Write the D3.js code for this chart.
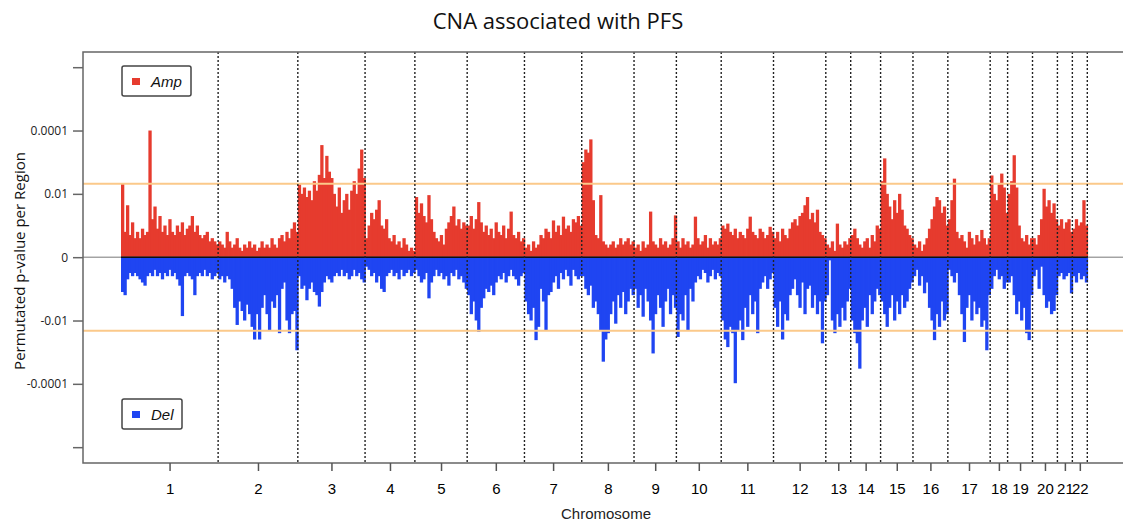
<!DOCTYPE html>
<html>
<head>
<meta charset="utf-8">
<script src="https://cdn.jsdelivr.net/npm/d3@7"></script>
<style>
  body { margin: 0; background: #fff; }
  svg { display: block; font-family: "Liberation Sans", Arial, sans-serif; }
</style>
</head>
<body>
<div id="chart"></div>
<script>
// Chromosome labels along the x axis
const chromLabels = ['1','2','3','4','5','6','7','8','9','10','11','12','13','14','15','16','17','18','19','20','21','22'];

// Amplification scores per region, one array per chromosome (tick units, 1 = one axis step)
const ampValues = [
  [1.17,0.4,0.82,0.35,0.55,0.3,0.4,0.3,0.45,0.35,0.4,2.0,0.6,0.8,0.45,0.65,0.4,0.5,0.35,0.6,0.4,0.35,0.5,0.4,0.55,0.35,0.45,0.5,0.65,0.4,0.5,0.35,0.3,0.35,0.4,0.25,0.3,0.25,0.2],
  [0.25,0.2,0.15,0.4,0.25,0.15,0.2,0.3,0.15,0.1,0.2,0.15,0.25,0.15,0.2,0.1,0.15,0.25,0.15,0.2,0.15,0.3,0.2,0.15,0.3,0.35,0.25,0.4,0.3,0.45,0.55,0.4],
  [1.15,1.0,1.1,0.95,1.05,0.9,1.2,1.05,1.3,1.77,1.25,1.6,1.35,1.25,1.0,0.8,1.1,0.7,0.9,1.0,0.75,1.05,1.2,1.0,1.4,1.7,1.25],
  [0.3,0.5,0.7,0.6,0.75,0.9,0.5,0.45,0.6,0.3,0.25,0.35,0.2,0.25,0.15,0.3,0.2,0.1,0.15,0.1],
  [0.95,0.7,0.85,0.65,0.55,0.98,0.6,0.4,0.3,0.25,0.35,0.2,0.45,0.55,0.65,0.8,0.5,0.6,0.45,0.55,0.5],
  [0.5,0.65,0.45,0.6,0.87,0.55,0.4,0.5,0.35,0.45,0.3,0.55,0.4,0.35,0.5,0.3,0.45,0.72,0.35,0.3,0.4,0.25,0.3],
  [0.15,0.2,0.1,0.25,0.15,0.2,0.35,0.3,0.45,0.4,0.3,0.58,0.4,0.5,0.35,0.64,0.45,0.5,0.4,0.6,0.55,0.65,0.5],
  [1.5,1.7,1.65,1.86,0.9,0.35,0.3,0.98,0.25,0.2,0.15,0.2,0.25,0.15,0.2,0.3,0.2,0.25,0.3,0.2,0.25],
  [0.15,0.2,0.1,0.25,0.15,0.2,0.72,0.25,0.2,0.15,0.3,0.2,0.25,0.15,0.2,0.3,0.66],
  [0.25,0.15,0.3,0.2,0.25,0.15,0.2,0.64,0.3,0.2,0.25,0.35,0.15,0.3,0.2,0.25,0.2,0.3],
  [0.5,0.45,0.53,0.4,0.35,0.45,0.3,0.4,0.35,0.3,0.45,0.64,0.4,0.35,0.3,0.45,0.4,0.3,0.35,0.48,0.4],
  [0.3,0.4,0.25,0.45,0.35,0.3,0.45,0.55,0.6,0.5,0.65,0.7,0.82,0.95,0.6,0.7,0.55,0.75,0.4,0.35,0.3],
  [0.2,0.15,0.25,0.1,0.53,0.2,0.15,0.25,0.2,0.3],
  [0.35,0.45,0.3,0.2,0.15,0.25,0.3,0.15,0.35,0.25,0.5,0.45],
  [1.2,1.56,1.0,0.8,0.6,0.9,0.7,1.0,0.75,0.5,0.45,0.35,0.3],
  [0.2,0.15,0.25,0.1,0.2,0.3,0.45,0.6,0.8,0.95,0.9,0.7,0.8,0.5],
  [0.6,0.9,1.24,0.4,0.3,0.35,0.25,0.15,0.4,0.3,0.2,0.35,0.25,0.43,0.3,0.2,0.3],
  [1.29,1.0,0.9,1.15,1.32,1.1,0.7],
  [1.0,1.2,1.61,1.1,0.5,0.3,0.25,0.35,0.2,0.3],
  [0.3,0.2,0.35,0.6,1.08,0.8,0.9,0.7,0.85,0.6],
  [0.5,0.6,0.45,0.55,0.6,0.4],
  [0.45,0.6,0.5,0.55,0.9,0.5]
];

// Deletion scores per region (magnitude, drawn below zero)
const delValues = [
  [0.55,0.6,0.35,0.25,0.3,0.25,0.3,0.35,0.4,0.45,0.3,0.25,0.3,0.2,0.3,0.25,0.35,0.25,0.3,0.2,0.3,0.25,0.35,0.45,0.93,0.3,0.25,0.3,0.35,0.6,0.3,0.25,0.3,0.2,0.3,0.25,0.35,0.3,0.25],
  [0.35,0.3,0.4,0.3,0.35,0.5,0.8,1.07,0.7,0.85,1.0,0.75,0.9,1.1,1.3,0.9,1.3,0.8,0.6,0.9,1.15,0.7,0.8,0.6,1.2,0.5,0.4,1.0,1.2,0.9,0.85,1.47],
  [0.3,0.5,0.45,0.68,0.5,0.4,0.55,0.6,0.78,0.55,0.4,0.3,0.35,0.4,0.3,0.25,0.3,0.2,0.3,0.25,0.35,0.3,0.2,0.3,0.25,0.35,0.4],
  [0.15,0.2,0.3,0.25,0.4,0.3,0.5,0.55,0.3,0.25,0.2,0.3,0.25,0.35,0.2,0.3,0.25,0.2,0.3,0.25],
  [0.2,0.3,0.4,0.35,0.25,0.65,0.4,0.3,0.2,0.3,0.25,0.35,0.3,0.45,0.25,0.3,0.2,0.35,0.3,0.4,0.5],
  [0.6,0.9,0.7,1.0,1.18,0.8,0.65,0.5,0.55,0.45,0.6,0.4,0.3,0.35,0.25,0.4,0.3,0.2,0.3,0.35,0.45,0.3,0.25],
  [0.7,0.9,1.0,0.8,1.31,1.1,0.5,0.7,1.15,0.6,0.55,0.4,0.3,0.5,0.25,0.35,0.2,0.3,0.45,0.2,0.3,0.35,0.3],
  [0.3,0.5,0.6,0.45,0.8,0.7,0.9,1.15,1.65,1.3,1.2,0.9,0.7,1.05,0.6,0.8,0.55,0.9,0.7,0.5,0.6],
  [0.5,0.8,0.6,0.94,0.5,0.7,1.0,1.52,0.9,0.6,0.8,1.1,0.7,0.5,0.9,0.6,0.8],
  [1.26,0.9,1.0,0.6,1.15,0.5,0.7,0.4,0.3,0.35,0.2,0.25,0.4,0.3,0.2,0.35,0.25,0.3],
  [1.0,1.3,1.42,1.1,1.2,1.99,1.15,1.0,1.31,0.8,1.1,0.6,0.9,0.7,1.2,0.5,0.4,0.3,0.5,0.35,0.25],
  [0.8,1.1,0.7,1.3,0.9,1.0,0.6,0.5,0.35,0.6,0.8,0.4,0.9,0.5,0.45,0.8,0.6,0.9,0.7,1.36,0.7],
  [0.6,0.05,1.0,1.2,0.9,1.1,0.8,1.0,0.7,0.5],
  [1.0,1.2,1.36,1.76,1.0,0.8,1.1,0.6,0.9,0.7,0.5,0.6],
  [0.7,0.9,1.1,0.8,0.6,1.0,0.7,0.9,0.6,0.8,0.7,0.5,0.4],
  [0.3,0.2,0.45,0.3,0.57,0.4,0.8,1.0,1.31,0.9,1.1,0.7,1.0,0.9],
  [0.2,0.3,0.4,0.25,0.6,0.9,1.34,0.8,0.6,1.0,0.7,0.9,0.8,1.1,1.0,1.47,0.6],
  [0.5,0.3,0.2,0.35,0.3,0.5,0.4],
  [0.4,0.3,0.6,0.9,0.7,1.0,0.8,1.2,1.31,0.6],
  [0.3,0.2,0.5,0.15,0.6,0.8,0.7,0.9,0.85,0.6],
  [0.3,0.25,0.35,0.3,0.25,0.57],
  [0.3,0.4,0.25,0.35,0.3,0.4]
];

// Y axis: tick positions (axis steps) and their printed labels
const yTickValues = [3, 2, 1, 0, -1, -2, -3];
const yTickLabels = ['', '0.0001', '0.01', '0', '-0.01', '-0.0001', ''];
const thresholdLevel = 1.16;

const width = 1123, height = 525;
const plot = { left: 83, top: 52, bottom: 463, right: 1123, dataLeft: 121, dataRight: 1087.3 };

const svg = d3.select('#chart').append('svg')
  .attr('width', width)
  .attr('height', height);

// region offsets per chromosome
const offsets = [];
let total = 0;
ampValues.forEach(arr => { offsets.push(total); total += arr.length; });

const x = d3.scaleLinear().domain([0, total]).range([plot.dataLeft, plot.dataRight]);
const y = d3.scaleLinear().domain([-3.25, 3.24]).range([plot.bottom, plot.top]);

const bars = [];
ampValues.forEach((arr, c) => arr.forEach((v, k) => bars.push({ i: offsets[c] + k, amp: v, del: delValues[c][k] })));

// Amp bars (up)
svg.append('g')
  .selectAll('rect')
  .data(bars)
  .join('rect')
  .attr('x', d => x(d.i))
  .attr('width', d => x(d.i + 1) - x(d.i) + 0.8)
  .attr('y', d => y(d.amp))
  .attr('height', d => y(0) - y(d.amp))
  .attr('fill', '#e63b2e');

// Del bars (down)
svg.append('g')
  .selectAll('rect')
  .data(bars)
  .join('rect')
  .attr('x', d => x(d.i))
  .attr('width', d => x(d.i + 1) - x(d.i) + 0.8)
  .attr('y', y(0))
  .attr('height', d => y(-d.del) - y(0))
  .attr('fill', '#1f45f2');

// Threshold lines
svg.append('g')
  .selectAll('line')
  .data([thresholdLevel, -thresholdLevel])
  .join('line')
  .attr('x1', plot.left).attr('x2', plot.right)
  .attr('y1', d => y(d)).attr('y2', d => y(d))
  .attr('stroke', '#fbc98a')
  .attr('stroke-width', 2);

// Zero line
svg.append('line')
  .attr('x1', plot.left).attr('x2', plot.right)
  .attr('y1', y(0)).attr('y2', y(0))
  .attr('stroke', '#777').attr('stroke-width', 1);
svg.append('line')
  .attr('x1', plot.dataLeft).attr('x2', plot.dataRight)
  .attr('y1', y(0)).attr('y2', y(0))
  .attr('stroke', '#111').attr('stroke-width', 1.5);

// Chromosome boundaries (dotted)
const bounds = offsets.slice(1).concat([total]);
svg.append('g')
  .selectAll('line')
  .data(bounds)
  .join('line')
  .attr('x1', d => x(d)).attr('x2', d => x(d))
  .attr('y1', plot.top).attr('y2', plot.bottom)
  .attr('stroke', '#222')
  .attr('stroke-width', 1.4)
  .attr('stroke-dasharray', '2,2');

// Frame
svg.append('path')
  .attr('d', `M${plot.right},${plot.top}H${plot.left}V${plot.bottom}H${plot.right}`)
  .attr('fill', 'none')
  .attr('stroke', '#666')
  .attr('stroke-width', 1.5);

// Y axis
const yAxis = d3.axisLeft(y)
  .tickValues(yTickValues)
  .tickSize(10)
  .tickPadding(5)
  .tickFormat((d, i) => yTickLabels[i]);
svg.append('g')
  .attr('transform', `translate(${plot.left},0)`)
  .call(yAxis)
  .call(g => g.select('.domain').remove())
  .call(g => g.selectAll('line').attr('stroke', '#666').attr('stroke-width', 1.5))
  .call(g => g.selectAll('text').attr('font-size', 12).attr('fill', '#222')
    .attr('font-family', '"Open Sans", "Liberation Sans", sans-serif'));

// X axis: ticks at chromosome centres
const centers = ampValues.map((arr, c) => offsets[c] + arr.length / 2);
const xAxis = d3.axisBottom(x)
  .tickValues(centers)
  .tickSize(8)
  .tickPadding(12)
  .tickFormat((d, i) => chromLabels[i]);
svg.append('g')
  .attr('transform', `translate(0,${plot.bottom})`)
  .call(xAxis)
  .call(g => g.select('.domain').remove())
  .call(g => g.selectAll('line').attr('stroke', '#555').attr('stroke-width', 1.5))
  .call(g => g.selectAll('text').attr('font-size', 15).attr('fill', '#000'));

// Axis titles
svg.append('text')
  .attr('x', 606).attr('y', 519)
  .attr('text-anchor', 'middle')
  .attr('font-size', 15)
  .attr('fill', '#222')
  .text('Chromosome');

svg.append('text')
  .attr('transform', 'translate(25,261) rotate(-90)')
  .attr('text-anchor', 'middle')
  .attr('font-family', '"Open Sans", "Liberation Sans", sans-serif')
  .attr('font-size', 15)
  .attr('fill', '#111')
  .text('Permutated p-value per Region');

// Title
svg.append('text')
  .attr('x', 558).attr('y', 29)
  .attr('text-anchor', 'middle')
  .attr('font-family', '"Open Sans", "Liberation Sans", sans-serif')
  .attr('font-size', 22)
  .attr('fill', '#111')
  .text('CNA associated with PFS');

// Legends
const legends = [
  { label: 'Amp', color: '#e63b2e', x: 122, y: 66, w: 69 },
  { label: 'Del', color: '#1f45f2', x: 122, y: 399, w: 60 }
];
const lg = svg.append('g')
  .selectAll('g')
  .data(legends)
  .join('g')
  .attr('transform', d => `translate(${d.x},${d.y})`);
lg.append('rect')
  .attr('width', d => d.w).attr('height', 30)
  .attr('rx', 2)
  .attr('fill', '#fff')
  .attr('stroke', '#444')
  .attr('stroke-width', 1.5);
lg.append('rect')
  .attr('x', 10).attr('y', 12)
  .attr('width', 8).attr('height', 7)
  .attr('fill', d => d.color);
lg.append('text')
  .attr('x', 29).attr('y', 21)
  .attr('font-size', 15)
  .attr('font-style', 'italic')
  .attr('fill', '#111')
  .text(d => d.label);
</script>
</body>
</html>
